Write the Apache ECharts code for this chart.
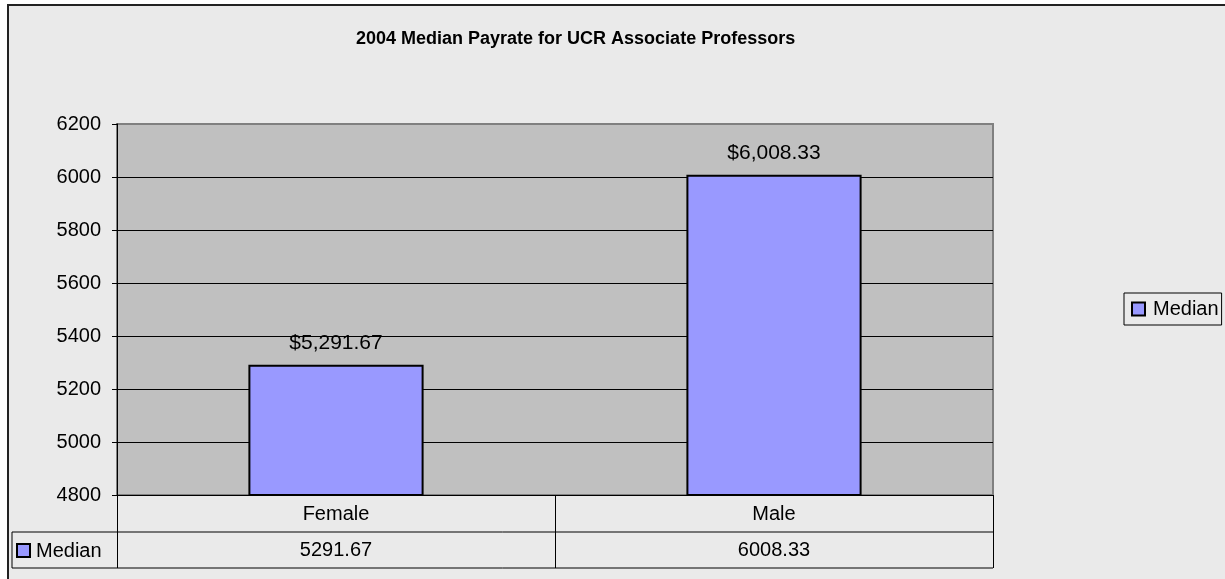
<!DOCTYPE html>
<html>
<head>
<meta charset="utf-8">
<script src="https://cdn.jsdelivr.net/npm/echarts@6/dist/echarts.min.js"></script>
<style>
  html, body { margin: 0; padding: 0; background: #fff; }
  #chart { width: 1225px; height: 579px; }
</style>
</head>
<body>
<div id="chart"></div>
<script>
// data
var categories = ['Female', 'Male'];
var medianValues = [5291.67, 6008.33];
var seriesName = 'Median';
var chartTitle = '2004 Median Payrate for UCR Associate Professors';

var font = 'Liberation Sans, Arial, sans-serif';

function money(v) {
  var parts = v.toFixed(2).split('.');
  return '$' + parts[0].replace(/\B(?=(\d{3})+(?!\d))/g, ',') + '.' + parts[1];
}

var chart = echarts.init(document.getElementById('chart'));

var options = {
  animation: false,
  textStyle: { fontFamily: font },
  title: {
    text: chartTitle,
    left: 351,
    top: 25,
    textStyle: { fontSize: 18, fontWeight: 'bold', color: '#000', fontFamily: font }
  },
  legend: {
    data: [seriesName],
    left: 1124,
    top: 293,
    orient: 'vertical',
    padding: [6, 3, 6, 7],
    borderColor: '#000',
    borderWidth: 1,
    itemWidth: 13,
    itemHeight: 13,
    icon: 'rect',
    itemStyle: { borderColor: '#000', borderWidth: 2 },
    textStyle: { fontSize: 20, color: '#000', padding: [0, 0, 0, 3], fontFamily: font }
  },
  grid: {
    left: 117,
    right: 232,
    top: 124,
    bottom: 84,
    show: true,
    backgroundColor: '#C0C0C0',
    borderColor: '#808080',
    borderWidth: 2
  },
  xAxis: [
    {
      type: 'category',
      data: categories,
      axisLine: { lineStyle: { color: '#000', width: 1 } },
      axisTick: { show: true, length: 73, lineStyle: { color: '#000', width: 1 } },
      axisLabel: { fontSize: 20, color: '#000', margin: 9, fontFamily: font },
      splitLine: { show: false }
    },
    {
      type: 'category',
      position: 'bottom',
      offset: 37,
      data: medianValues.map(function (v) { return v.toFixed(2); }),
      axisLine: { show: false },
      axisTick: { show: false },
      axisLabel: { fontSize: 20, color: '#000', margin: 8, fontFamily: font }
    }
  ],
  yAxis: {
    type: 'value',
    min: 4800,
    max: 6200,
    interval: 200,
    axisLine: { show: true, lineStyle: { color: '#000', width: 1 } },
    axisTick: { show: true, length: 5, lineStyle: { color: '#000' } },
    axisLabel: {
      fontSize: 20, color: '#000', margin: 16, fontFamily: font,
      formatter: function (v) { return String(v); }
    },
    splitLine: { show: true, showMaxLine: false, lineStyle: { color: '#000', width: 1 } }
  },
  series: [
    {
      name: seriesName,
      type: 'bar',
      data: medianValues,
      barCategoryGap: '60%',
      itemStyle: { color: '#9999FF', borderColor: '#000', borderWidth: 2 },
      label: {
        show: true,
        position: 'top',
        distance: 11,
        fontSize: 21,
        color: '#000',
        fontFamily: font,
        formatter: function (p) { return money(p.value); }
      }
    }
  ],
  graphic: [
    // chart area background with its frame
    {
      type: 'rect', z: -10, silent: true,
      shape: { x: 8, y: 5, width: 1240, height: 600 },
      style: { fill: '#EAEAEA', stroke: '#222', lineWidth: 2 }
    },
    // data table lines
    {
      type: 'line', z: 10, silent: true,
      shape: { x1: 12, y1: 532, x2: 993, y2: 532 },
      style: { stroke: '#000', lineWidth: 1 }
    },
    {
      type: 'line', z: 10, silent: true,
      shape: { x1: 12, y1: 568, x2: 993, y2: 568 },
      style: { stroke: '#000', lineWidth: 1 }
    },
    {
      type: 'line', z: 10, silent: true,
      shape: { x1: 12, y1: 532, x2: 12, y2: 568 },
      style: { stroke: '#000', lineWidth: 1 }
    },
    // legend key in the table
    {
      type: 'rect', z: 10, silent: true,
      shape: { x: 17, y: 544, width: 13, height: 13 },
      style: { fill: '#9999FF', stroke: '#000', lineWidth: 2 }
    },
    {
      type: 'text', z: 10, silent: true,
      x: 36, y: 551,
      style: { text: seriesName, fontSize: 20, fontFamily: font, fill: '#000', verticalAlign: 'middle' }
    }
  ]
};

chart.setOption(options);
</script>
</body>
</html>
